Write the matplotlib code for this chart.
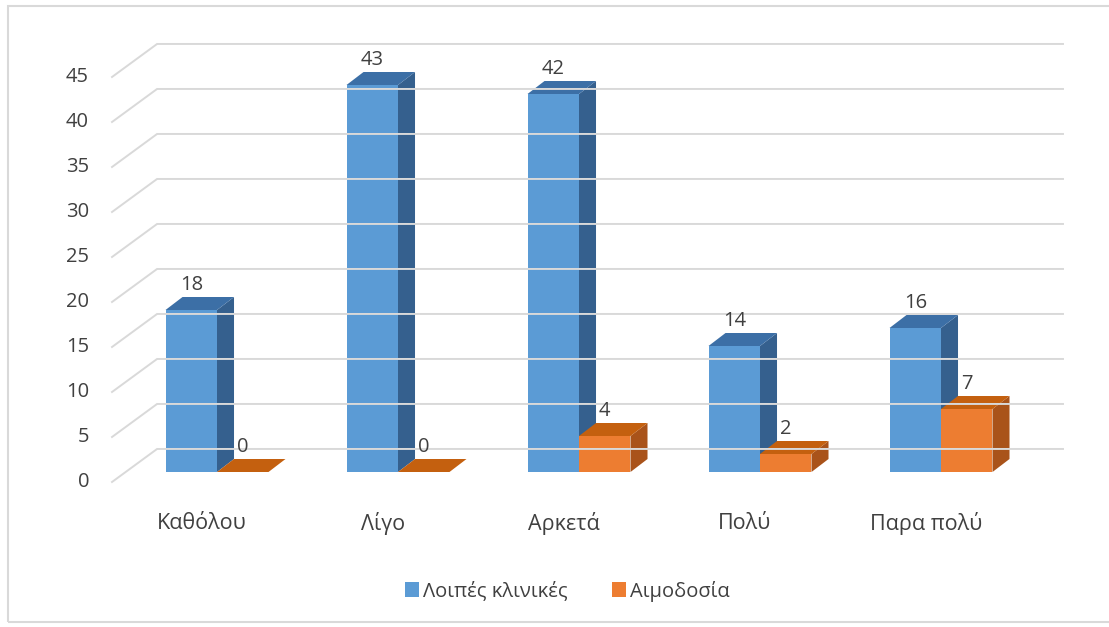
import matplotlib.pyplot as plt
from matplotlib.patches import Patch, Rectangle

plt.rcParams['font.family'] = ['Open Sans', 'DejaVu Sans']

categories = ["Καθόλου", "Λίγο", "Αρκετά", "Πολύ", "Παρα πολύ"]
other_clinics = [18, 43, 42, 14, 16]
blood_donation = [0, 0, 4, 2, 7]
series_names = ["Λοιπές κλινικές", "Αιμοδοσία"]
y_ticks = [0, 5, 10, 15, 20, 25, 30, 35, 40, 45]

front_colors = ["#5B9BD5", "#ED7D31"]
top_colors = ["#3C6FA6", "#C4600F"]
side_colors = ["#35608E", "#A9531A"]

W, H = 1109, 627
fig = plt.figure(figsize=(W / 100, H / 100), dpi=100)
ax = fig.add_axes([0, 0, 1, 1])
# one category step = 181 px, one value unit = 9 px
ax.set_xlim(-217 / 181, (W - 217) / 181)
ax.set_ylim((472 - H) / 9, 472 / 9)
ax.axis("off")

fig.patches.append(Rectangle((8 / W, 1 - 622 / H), 1.2, (622 - 6) / H,
                             transform=fig.transFigure, fill=False,
                             edgecolor="#D9D9D9", linewidth=1.5))

grid_col = "#D9D9D9"
fx, bx, ex = -0.580, -0.331, 4.674
for v in y_ticks:
    ax.plot([fx, bx, ex], [v - 1.11, v + 2.56, v + 2.56],
            color=grid_col, linewidth=1.4, solid_joinstyle="miter")
    ax.text(-0.707, v - 1.11, str(v), ha="right", va="center",
            fontsize=14.5, color="#404040")

bw = 0.2845
ddx, ddy = 0.094, 1.444

for i, cat in enumerate(categories):
    for k, vals in enumerate([other_clinics, blood_donation]):
        v = vals[i]
        x0 = i - bw + k * bw
        if v > 0:
            ax.bar(x0, v, width=bw, align="edge", color=front_colors[k],
                   linewidth=0)
            ax.fill([x0 + bw, x0 + bw + ddx, x0 + bw + ddx, x0 + bw],
                    [0, ddy, v + ddy, v], color=side_colors[k], linewidth=0)
        ax.fill([x0, x0 + bw, x0 + bw + ddx, x0 + ddx],
                [v, v, v + ddy, v + ddy], color=top_colors[k], linewidth=0)
        ax.text(x0 + bw / 2, v + 2.78, str(v), ha="center", va="center",
                fontsize=14.5, color="#404040")
    ax.text(i - 0.083, -5.67, cat, ha="center", va="center",
            fontsize=15.5, color="#404040")

handles = [Patch(facecolor=c, edgecolor="none") for c in front_colors]
fig.legend(handles, series_names, loc="center",
           bbox_to_anchor=(567 / W, 1 - 591 / H), ncol=2, frameon=False,
           fontsize=14.5, handlelength=0.7, handleheight=0.7,
           handletextpad=0.2, columnspacing=2.2, labelcolor="#404040")

fig.savefig("out.png", dpi=100)
